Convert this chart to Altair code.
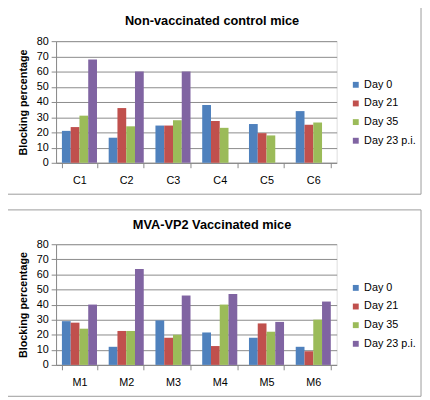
import altair as alt
import pandas as pd

FONT = "Liberation Sans"

series = ["Day 0", "Day 21", "Day 35", "Day 23 p.i."]
colors = ["#4F81BD", "#C0504D", "#9BBB59", "#8064A2"]

control_mice = ["C1", "C2", "C3", "C4", "C5", "C6"]
control_day0 = [21, 16.5, 24.5, 38, 25.5, 34]
control_day21 = [23.5, 36, 24.5, 27.5, 19.5, 25]
control_day35 = [31, 24, 28, 23, 18, 26.5]
control_day23pi = [68, 60, 60, None, None, None]

vacc_mice = ["M1", "M2", "M3", "M4", "M5", "M6"]
vacc_day0 = [29, 12, 29.5, 21.5, 18, 12]
vacc_day21 = [28, 22.5, 18, 12.5, 27.5, 9]
vacc_day35 = [24, 22.5, 20, 40, 22, 30]
vacc_day23pi = [40, 63.5, 46, 47, 28.5, 42]


def to_long(mice, cols):
    rows = []
    for s, vals in zip(series, cols):
        for m, v in zip(mice, vals):
            if v is not None:
                rows.append({"mouse": m, "series": s, "value": v})
    return pd.DataFrame(rows)


def panel(mice, cols, title, h, legend_y):
    df = to_long(mice, cols)
    one = pd.DataFrame({"a": [0]})
    border = alt.Chart(one).mark_rect(
        fill="white", fillOpacity=0, stroke="#9a9a9a", strokeWidth=1
    ).encode(
        x=alt.value(-54), x2=alt.value(372), y=alt.value(-35), y2=alt.value(h + 32)
    )
    ttl = alt.Chart(one).mark_text(
        text=title, font=FONT, fontSize=13, fontWeight="bold", color="black",
        align="center", baseline="middle"
    ).encode(x=alt.value(159), y=alt.value(-20))
    bars = alt.Chart(df).mark_bar().encode(
        x=alt.X(
            "mouse:N", sort=mice,
            scale=alt.Scale(paddingInner=0.25, paddingOuter=0.125),
            axis=alt.Axis(
                title=None, labelAngle=0, tickBand="extent", tickSize=5,
                tickColor="#888888", domainColor="#888888", labelFont=FONT,
                labelFontSize=11, labelColor="black", labelPadding=7, grid=False,
            ),
        ),
        xOffset=alt.XOffset("series:N", sort=series, scale=alt.Scale(domain=series)),
        y=alt.Y(
            "value:Q", scale=alt.Scale(domain=[0, 80]),
            axis=alt.Axis(
                title="Blocking percentage", values=list(range(0, 81, 10)),
                titleFont=FONT, titleFontSize=11, titleFontWeight="bold",
                titleColor="black", titlePadding=8, labelFont=FONT,
                labelFontSize=11, labelColor="black", labelPadding=3,
                tickSize=5, tickColor="#888888", domainColor="#888888",
                gridColor="#8a8a8a", gridWidth=1,
            ),
        ),
        color=alt.Color(
            "series:N",
            scale=alt.Scale(domain=series, range=colors),
            legend=alt.Legend(
                title=None, orient="none", legendX=300, legendY=legend_y,
                symbolType="square", symbolSize=36, symbolStrokeWidth=0,
                labelFont=FONT, labelFontSize=11, labelColor="black",
                rowPadding=7, labelOffset=3,
            ),
        ),
    )
    return alt.layer(border, ttl, bars).properties(width=286, height=h)


top = panel(control_mice, [control_day0, control_day21, control_day35, control_day23pi],
            "Non-vaccinated control mice", 124, 39)
bottom = panel(vacc_mice, [vacc_day0, vacc_day21, vacc_day35, vacc_day23pi],
               "MVA-VP2 Vaccinated mice", 123, 39)

chart = alt.vconcat(top, bottom, spacing=14).resolve_legend(color="independent").properties(
    padding={"left": -6, "top": -6, "right": 0, "bottom": 0}
).configure_view(stroke=None).configure(background="white")

chart.save("out.html", embed_options={"renderer": "svg", "actions": False})
